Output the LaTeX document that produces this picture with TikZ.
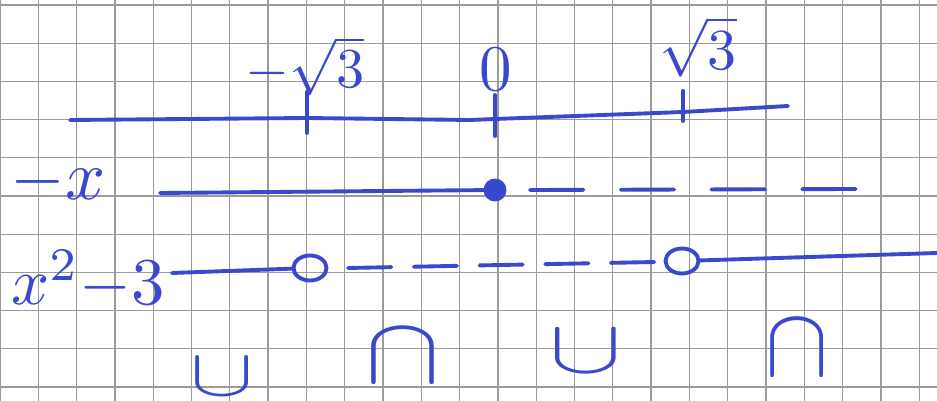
\documentclass[tikz,border=0pt]{standalone}
\usepackage{graphicx}
\usepackage{fontspec}
\usetikzlibrary{shapes.geometric}
\definecolor{inkblue}{RGB}{58,72,205}
\definecolor{gridgrey}{RGB}{155,155,155}
\newcommand\hwsize[2]{\scalebox{#1}{#2}}
\newcommand\hwxy[3]{\scalebox{#1}[#2]{#3}}
\begin{document}
\begin{tikzpicture}[x=0.01cm,y=-0.01cm,
  gridline/.style={draw=gridgrey,line width=0.35pt},
  ink/.style={draw=inkblue,line width=1.1pt,line cap=round,line join=round},
  lbl/.style={text=inkblue,inner sep=0pt},
  opendot/.style={ellipse,draw=inkblue,line width=1.1pt,minimum width=0.33cm,minimum height=0.25cm,inner sep=0pt},
  fulldot/.style={circle,draw=inkblue,fill=inkblue,line width=1.1pt,minimum size=0.19cm,inner sep=0pt},
  dashone/.style={ink,dash pattern=on 15.2pt off 10.6pt},
  dashtwo/.style={ink,dash pattern=on 12.3pt off 6.4pt}]
\useasboundingbox (0,0) rectangle (937,401);
\fill[white] (0,0) rectangle (937,401);
% grid paper
\foreach \i in {0,...,24} \draw[gridline] ({38.3*\i},0) -- ({38.3*\i},401);
\foreach \j in {0,...,10} \draw[gridline] (0,{5+38.2*\j}) -- (937,{5+38.2*\j});
% main axis
\coordinate (aL) at (70,120);
\coordinate (t1) at (307,118);
\coordinate (tm) at (470,120);
\coordinate (t0) at (495,119);
\coordinate (t2) at (683,112);
\coordinate (aR) at (788,106);
\draw[ink] (aL) -- (t1) -- (tm) -- (t0) -- (t2) -- (aR);
\draw[ink] ([yshift=-0.15cm]t1) -- ([yshift=0.26cm]t1);
\draw[ink] ([yshift=-0.17cm]t0) -- ([yshift=0.24cm]t0);
\draw[ink] ([yshift=-0.09cm]t2) -- ([yshift=0.21cm]t2);
\node[lbl] (lm) at (305,66) {\hwsize{1.6}{$-\sqrt{3}$}};
\node[lbl] (l0) at (496,70) {\hwsize{1.85}{$0$}};
\node[lbl] (l3) at (698,47) {\hwsize{1.65}{$\sqrt{3}$}};
% row -x
\node[lbl] (rx) at (58,182) {\hwsize{2}{$-x$}};
\coordinate (r1s) at (160,193);
\node[fulldot] (d0) at (495,190) {};
\coordinate (r1a) at (530,190);
\coordinate (r1e) at (858,189);
\draw[ink] (r1s) -- (d0);
\draw[dashone] (r1a) -- (r1e);
% row x^2-3
\node[lbl] (rq) at (88,280) {\hwsize{1.9}{$x^{2}{-}3$}};
\coordinate (r2s) at (172,273);
\node[opendot] (c1) at (310,268) {};
\coordinate (r2a) at (348,268);
\coordinate (r2b) at (655,262);
\node[opendot] (c2) at (682,261) {};
\coordinate (r2e) at (937,253);
\draw[ink] (r2s) -- (c1);
\draw[dashtwo] (r2a) -- (r2b);
\draw[ink] (c2) -- (r2e);
% curvature
\node[lbl] (k1) at (222,377) {\hwxy{2.7}{1.9}{$\cup$}};
\node[lbl] (k2) at (403,356) {\hwxy{3.2}{2.7}{$\cap$}};
\node[lbl] (k3) at (586,352) {\hwxy{3.1}{2.15}{$\cup$}};
\node[lbl] (k4) at (797,348) {\hwxy{2.7}{2.8}{$\cap$}};
\end{tikzpicture}
\end{document}
